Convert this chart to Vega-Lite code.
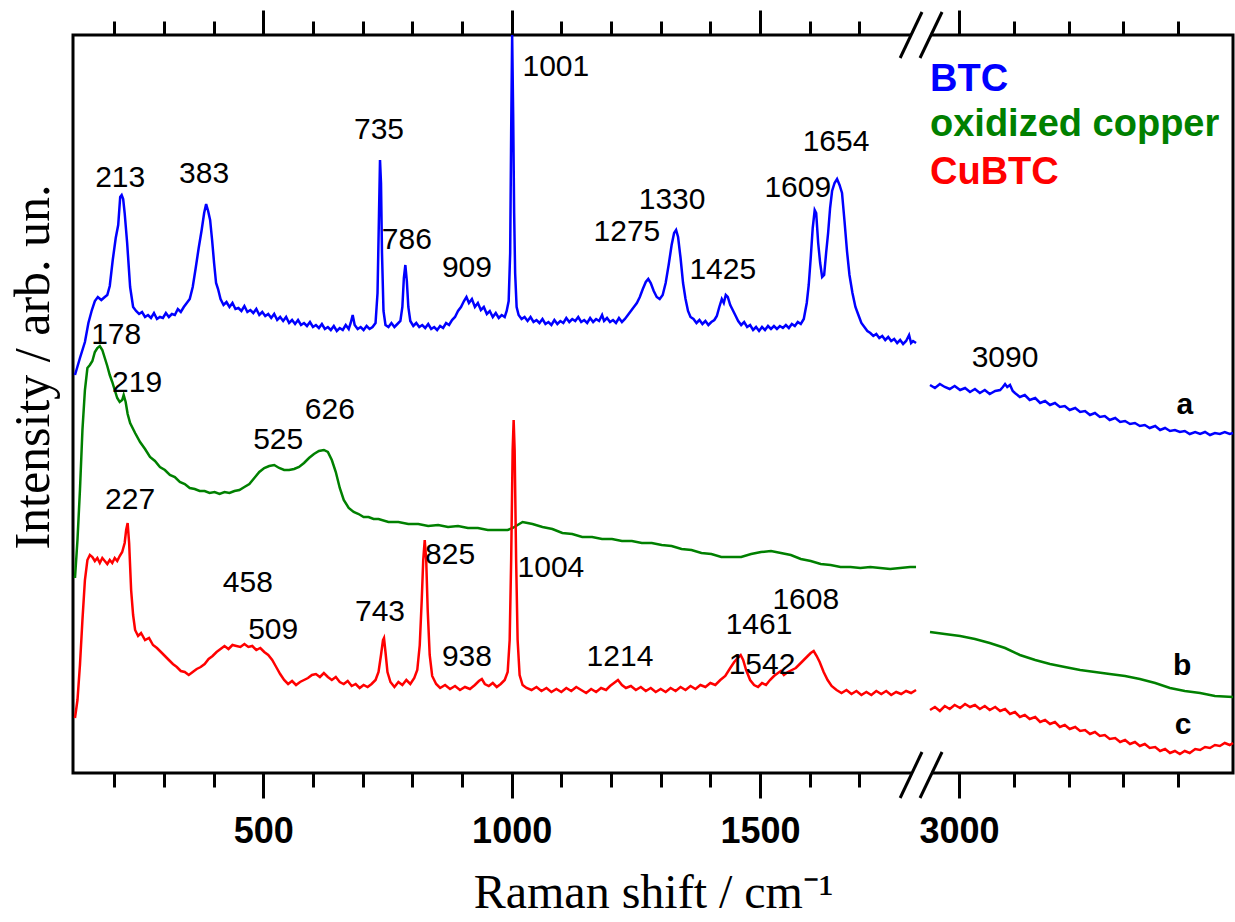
{
"$schema": "https://vega.github.io/schema/vega-lite/v6.json",
"width": 1160, "height": 738,
"autosize": {"type": "none"},
"padding": {"left": 73, "top": 35, "right": 2, "bottom": 149},
"background": "white",
"config": {"view": {"stroke": "black", "strokeWidth": 3}, "font": "Liberation Sans"},
"datasets": {
"breaks": [{"x1":1782,"x2":1826,"y1":715,"y2":761},{"x1":1822,"x2":2969,"y1":715,"y2":761},{"x1":1782,"x2":1826,"y1":-25,"y2":21},{"x1":1822,"x2":2969,"y1":-25,"y2":21}],
"legend": [{"s":"BTC","x":2947,"y":693},{"s":"oxidized copper","x":2947,"y":648},{"s":"CuBTC","x":2947,"y":600}],
"letters": [{"t":"a","x":3412,"y":368},{"t":"b","x":3407,"y":107},{"t":"c","x":3409,"y":48}],
"peaks": [
{"t":"213","x":212,"y":595},{"t":"383","x":381,"y":599},{"t":"735","x":733,"y":643},{"t":"786","x":789,"y":533},{"t":"909","x":910,"y":505},{"t":"1001","x":1089,"y":706},{"t":"1275","x":1232,"y":541},{"t":"1330","x":1323,"y":573},{"t":"1425","x":1425,"y":503},{"t":"1609","x":1576,"y":585},{"t":"1654","x":1653,"y":631},{"t":"3090","x":3084,"y":415},
{"t":"178","x":204,"y":438},{"t":"219","x":246,"y":390},{"t":"525","x":530,"y":333},{"t":"626","x":634,"y":363},
{"t":"227","x":232,"y":273},{"t":"458","x":469,"y":190},{"t":"509","x":520,"y":143},{"t":"743","x":735,"y":161},{"t":"825","x":876,"y":218},{"t":"1004","x":1079,"y":205},{"t":"938","x":910,"y":116},{"t":"1214","x":1218,"y":116},{"t":"1461","x":1498,"y":148},{"t":"1542","x":1504,"y":108},{"t":"1608","x":1592,"y":173}
],
"spectra": [
{"s":"BTC","g":"L","x":121,"y":398},{"s":"BTC","g":"L","x":131,"y":415},{"s":"BTC","g":"L","x":141,"y":431},{"s":"BTC","g":"L","x":148,"y":450},{"s":"BTC","g":"L","x":155,"y":463},{"s":"BTC","g":"L","x":161,"y":472},{"s":"BTC","g":"L","x":167,"y":476},{"s":"BTC","g":"L","x":174,"y":473},{"s":"BTC","g":"L","x":181,"y":476},{"s":"BTC","g":"L","x":186,"y":478},{"s":"BTC","g":"L","x":191,"y":487},{"s":"BTC","g":"L","x":197,"y":513},{"s":"BTC","g":"L","x":203,"y":535},{"s":"BTC","g":"L","x":208,"y":548},{"s":"BTC","g":"L","x":212,"y":576},{"s":"BTC","g":"L","x":215,"y":578},{"s":"BTC","g":"L","x":218,"y":574},{"s":"BTC","g":"L","x":221,"y":560},{"s":"BTC","g":"L","x":226,"y":530},{"s":"BTC","g":"L","x":232,"y":486},{"s":"BTC","g":"L","x":238,"y":466},{"s":"BTC","g":"L","x":244,"y":462},{"s":"BTC","g":"L","x":250,"y":459},{"s":"BTC","g":"L","x":256,"y":461},{"s":"BTC","g":"L","x":262,"y":456},{"s":"BTC","g":"L","x":268,"y":458},{"s":"BTC","g":"L","x":274,"y":455},{"s":"BTC","g":"L","x":280,"y":460},{"s":"BTC","g":"L","x":286,"y":454},{"s":"BTC","g":"L","x":292,"y":456},{"s":"BTC","g":"L","x":298,"y":455},{"s":"BTC","g":"L","x":304,"y":460},{"s":"BTC","g":"L","x":310,"y":456},{"s":"BTC","g":"L","x":316,"y":459},{"s":"BTC","g":"L","x":322,"y":458},{"s":"BTC","g":"L","x":328,"y":464},{"s":"BTC","g":"L","x":334,"y":461},{"s":"BTC","g":"L","x":340,"y":466},{"s":"BTC","g":"L","x":346,"y":470},{"s":"BTC","g":"L","x":352,"y":474},{"s":"BTC","g":"L","x":358,"y":486},{"s":"BTC","g":"L","x":364,"y":505},{"s":"BTC","g":"L","x":370,"y":525},{"s":"BTC","g":"L","x":376,"y":543},{"s":"BTC","g":"L","x":381,"y":560},{"s":"BTC","g":"L","x":385,"y":569},{"s":"BTC","g":"L","x":389,"y":562},{"s":"BTC","g":"L","x":393,"y":553},{"s":"BTC","g":"L","x":397,"y":533},{"s":"BTC","g":"L","x":401,"y":510},{"s":"BTC","g":"L","x":405,"y":490},{"s":"BTC","g":"L","x":409,"y":484},{"s":"BTC","g":"L","x":414,"y":474},{"s":"BTC","g":"L","x":420,"y":468},{"s":"BTC","g":"L","x":426,"y":471},{"s":"BTC","g":"L","x":432,"y":466},{"s":"BTC","g":"L","x":438,"y":470},{"s":"BTC","g":"L","x":444,"y":464},{"s":"BTC","g":"L","x":450,"y":465},{"s":"BTC","g":"L","x":456,"y":462},{"s":"BTC","g":"L","x":462,"y":467},{"s":"BTC","g":"L","x":468,"y":461},{"s":"BTC","g":"L","x":474,"y":463},{"s":"BTC","g":"L","x":480,"y":460},{"s":"BTC","g":"L","x":486,"y":464},{"s":"BTC","g":"L","x":492,"y":458},{"s":"BTC","g":"L","x":498,"y":461},{"s":"BTC","g":"L","x":504,"y":457},{"s":"BTC","g":"L","x":510,"y":459},{"s":"BTC","g":"L","x":516,"y":455},{"s":"BTC","g":"L","x":522,"y":459},{"s":"BTC","g":"L","x":528,"y":453},{"s":"BTC","g":"L","x":534,"y":456},{"s":"BTC","g":"L","x":540,"y":452},{"s":"BTC","g":"L","x":546,"y":456},{"s":"BTC","g":"L","x":552,"y":450},{"s":"BTC","g":"L","x":558,"y":453},{"s":"BTC","g":"L","x":564,"y":449},{"s":"BTC","g":"L","x":570,"y":453},{"s":"BTC","g":"L","x":576,"y":448},{"s":"BTC","g":"L","x":582,"y":450},{"s":"BTC","g":"L","x":588,"y":447},{"s":"BTC","g":"L","x":594,"y":451},{"s":"BTC","g":"L","x":600,"y":446},{"s":"BTC","g":"L","x":606,"y":448},{"s":"BTC","g":"L","x":612,"y":445},{"s":"BTC","g":"L","x":618,"y":449},{"s":"BTC","g":"L","x":624,"y":444},{"s":"BTC","g":"L","x":630,"y":446},{"s":"BTC","g":"L","x":636,"y":443},{"s":"BTC","g":"L","x":642,"y":447},{"s":"BTC","g":"L","x":648,"y":442},{"s":"BTC","g":"L","x":654,"y":445},{"s":"BTC","g":"L","x":660,"y":443},{"s":"BTC","g":"L","x":666,"y":448},{"s":"BTC","g":"L","x":672,"y":444},{"s":"BTC","g":"L","x":676,"y":450},{"s":"BTC","g":"L","x":680,"y":458},{"s":"BTC","g":"L","x":684,"y":448},{"s":"BTC","g":"L","x":690,"y":444},{"s":"BTC","g":"L","x":696,"y":446},{"s":"BTC","g":"L","x":702,"y":443},{"s":"BTC","g":"L","x":708,"y":447},{"s":"BTC","g":"L","x":714,"y":444},{"s":"BTC","g":"L","x":720,"y":446},{"s":"BTC","g":"L","x":726,"y":450},{"s":"BTC","g":"L","x":730,"y":480},{"s":"BTC","g":"L","x":733,"y":560},{"s":"BTC","g":"L","x":735,"y":613},{"s":"BTC","g":"L","x":737,"y":590},{"s":"BTC","g":"L","x":739,"y":520},{"s":"BTC","g":"L","x":742,"y":462},{"s":"BTC","g":"L","x":746,"y":448},{"s":"BTC","g":"L","x":752,"y":446},{"s":"BTC","g":"L","x":758,"y":450},{"s":"BTC","g":"L","x":764,"y":446},{"s":"BTC","g":"L","x":770,"y":449},{"s":"BTC","g":"L","x":776,"y":452},{"s":"BTC","g":"L","x":780,"y":466},{"s":"BTC","g":"L","x":783,"y":495},{"s":"BTC","g":"L","x":786,"y":508},{"s":"BTC","g":"L","x":789,"y":492},{"s":"BTC","g":"L","x":792,"y":466},{"s":"BTC","g":"L","x":796,"y":452},{"s":"BTC","g":"L","x":802,"y":447},{"s":"BTC","g":"L","x":808,"y":450},{"s":"BTC","g":"L","x":814,"y":446},{"s":"BTC","g":"L","x":820,"y":448},{"s":"BTC","g":"L","x":826,"y":445},{"s":"BTC","g":"L","x":832,"y":449},{"s":"BTC","g":"L","x":838,"y":444},{"s":"BTC","g":"L","x":844,"y":446},{"s":"BTC","g":"L","x":850,"y":443},{"s":"BTC","g":"L","x":856,"y":447},{"s":"BTC","g":"L","x":862,"y":445},{"s":"BTC","g":"L","x":868,"y":450},{"s":"BTC","g":"L","x":874,"y":448},{"s":"BTC","g":"L","x":880,"y":453},{"s":"BTC","g":"L","x":886,"y":456},{"s":"BTC","g":"L","x":892,"y":462},{"s":"BTC","g":"L","x":898,"y":466},{"s":"BTC","g":"L","x":904,"y":472},{"s":"BTC","g":"L","x":909,"y":476},{"s":"BTC","g":"L","x":914,"y":470},{"s":"BTC","g":"L","x":920,"y":474},{"s":"BTC","g":"L","x":926,"y":466},{"s":"BTC","g":"L","x":932,"y":470},{"s":"BTC","g":"L","x":938,"y":463},{"s":"BTC","g":"L","x":944,"y":466},{"s":"BTC","g":"L","x":950,"y":459},{"s":"BTC","g":"L","x":956,"y":462},{"s":"BTC","g":"L","x":962,"y":456},{"s":"BTC","g":"L","x":968,"y":460},{"s":"BTC","g":"L","x":974,"y":455},{"s":"BTC","g":"L","x":980,"y":458},{"s":"BTC","g":"L","x":986,"y":456},{"s":"BTC","g":"L","x":990,"y":462},{"s":"BTC","g":"L","x":994,"y":472},{"s":"BTC","g":"L","x":997,"y":520},{"s":"BTC","g":"L","x":999,"y":640},{"s":"BTC","g":"L","x":1001,"y":738},{"s":"BTC","g":"L","x":1003,"y":660},{"s":"BTC","g":"L","x":1005,"y":560},{"s":"BTC","g":"L","x":1007,"y":500},{"s":"BTC","g":"L","x":1010,"y":466},{"s":"BTC","g":"L","x":1014,"y":458},{"s":"BTC","g":"L","x":1020,"y":454},{"s":"BTC","g":"L","x":1026,"y":456},{"s":"BTC","g":"L","x":1032,"y":452},{"s":"BTC","g":"L","x":1038,"y":456},{"s":"BTC","g":"L","x":1044,"y":451},{"s":"BTC","g":"L","x":1050,"y":453},{"s":"BTC","g":"L","x":1056,"y":450},{"s":"BTC","g":"L","x":1062,"y":454},{"s":"BTC","g":"L","x":1068,"y":449},{"s":"BTC","g":"L","x":1074,"y":451},{"s":"BTC","g":"L","x":1080,"y":448},{"s":"BTC","g":"L","x":1086,"y":453},{"s":"BTC","g":"L","x":1092,"y":449},{"s":"BTC","g":"L","x":1098,"y":452},{"s":"BTC","g":"L","x":1104,"y":450},{"s":"BTC","g":"L","x":1110,"y":455},{"s":"BTC","g":"L","x":1116,"y":451},{"s":"BTC","g":"L","x":1122,"y":454},{"s":"BTC","g":"L","x":1128,"y":452},{"s":"BTC","g":"L","x":1134,"y":456},{"s":"BTC","g":"L","x":1140,"y":451},{"s":"BTC","g":"L","x":1146,"y":453},{"s":"BTC","g":"L","x":1152,"y":450},{"s":"BTC","g":"L","x":1158,"y":455},{"s":"BTC","g":"L","x":1164,"y":451},{"s":"BTC","g":"L","x":1170,"y":454},{"s":"BTC","g":"L","x":1176,"y":452},{"s":"BTC","g":"L","x":1182,"y":458},{"s":"BTC","g":"L","x":1186,"y":452},{"s":"BTC","g":"L","x":1192,"y":455},{"s":"BTC","g":"L","x":1198,"y":451},{"s":"BTC","g":"L","x":1204,"y":453},{"s":"BTC","g":"L","x":1210,"y":450},{"s":"BTC","g":"L","x":1216,"y":455},{"s":"BTC","g":"L","x":1222,"y":451},{"s":"BTC","g":"L","x":1228,"y":454},{"s":"BTC","g":"L","x":1234,"y":458},{"s":"BTC","g":"L","x":1240,"y":462},{"s":"BTC","g":"L","x":1246,"y":466},{"s":"BTC","g":"L","x":1252,"y":470},{"s":"BTC","g":"L","x":1258,"y":476},{"s":"BTC","g":"L","x":1264,"y":484},{"s":"BTC","g":"L","x":1270,"y":491},{"s":"BTC","g":"L","x":1275,"y":494},{"s":"BTC","g":"L","x":1280,"y":490},{"s":"BTC","g":"L","x":1286,"y":482},{"s":"BTC","g":"L","x":1292,"y":476},{"s":"BTC","g":"L","x":1298,"y":474},{"s":"BTC","g":"L","x":1304,"y":478},{"s":"BTC","g":"L","x":1310,"y":490},{"s":"BTC","g":"L","x":1316,"y":508},{"s":"BTC","g":"L","x":1322,"y":528},{"s":"BTC","g":"L","x":1327,"y":540},{"s":"BTC","g":"L","x":1331,"y":543},{"s":"BTC","g":"L","x":1335,"y":536},{"s":"BTC","g":"L","x":1340,"y":515},{"s":"BTC","g":"L","x":1345,"y":490},{"s":"BTC","g":"L","x":1350,"y":474},{"s":"BTC","g":"L","x":1355,"y":462},{"s":"BTC","g":"L","x":1360,"y":456},{"s":"BTC","g":"L","x":1366,"y":454},{"s":"BTC","g":"L","x":1372,"y":450},{"s":"BTC","g":"L","x":1378,"y":453},{"s":"BTC","g":"L","x":1384,"y":449},{"s":"BTC","g":"L","x":1390,"y":452},{"s":"BTC","g":"L","x":1396,"y":448},{"s":"BTC","g":"L","x":1402,"y":451},{"s":"BTC","g":"L","x":1408,"y":453},{"s":"BTC","g":"L","x":1413,"y":457},{"s":"BTC","g":"L","x":1418,"y":466},{"s":"BTC","g":"L","x":1423,"y":474},{"s":"BTC","g":"L","x":1427,"y":470},{"s":"BTC","g":"L","x":1431,"y":478},{"s":"BTC","g":"L","x":1435,"y":476},{"s":"BTC","g":"L","x":1440,"y":468},{"s":"BTC","g":"L","x":1445,"y":463},{"s":"BTC","g":"L","x":1450,"y":458},{"s":"BTC","g":"L","x":1456,"y":452},{"s":"BTC","g":"L","x":1462,"y":448},{"s":"BTC","g":"L","x":1468,"y":451},{"s":"BTC","g":"L","x":1474,"y":446},{"s":"BTC","g":"L","x":1480,"y":448},{"s":"BTC","g":"L","x":1486,"y":443},{"s":"BTC","g":"L","x":1492,"y":446},{"s":"BTC","g":"L","x":1498,"y":442},{"s":"BTC","g":"L","x":1504,"y":446},{"s":"BTC","g":"L","x":1510,"y":443},{"s":"BTC","g":"L","x":1516,"y":447},{"s":"BTC","g":"L","x":1522,"y":444},{"s":"BTC","g":"L","x":1528,"y":447},{"s":"BTC","g":"L","x":1534,"y":444},{"s":"BTC","g":"L","x":1540,"y":447},{"s":"BTC","g":"L","x":1546,"y":445},{"s":"BTC","g":"L","x":1552,"y":448},{"s":"BTC","g":"L","x":1558,"y":445},{"s":"BTC","g":"L","x":1564,"y":449},{"s":"BTC","g":"L","x":1570,"y":447},{"s":"BTC","g":"L","x":1576,"y":451},{"s":"BTC","g":"L","x":1582,"y":449},{"s":"BTC","g":"L","x":1588,"y":454},{"s":"BTC","g":"L","x":1594,"y":470},{"s":"BTC","g":"L","x":1598,"y":488},{"s":"BTC","g":"L","x":1602,"y":515},{"s":"BTC","g":"L","x":1606,"y":545},{"s":"BTC","g":"L","x":1610,"y":563},{"s":"BTC","g":"L","x":1613,"y":560},{"s":"BTC","g":"L","x":1617,"y":530},{"s":"BTC","g":"L","x":1621,"y":510},{"s":"BTC","g":"L","x":1625,"y":496},{"s":"BTC","g":"L","x":1629,"y":498},{"s":"BTC","g":"L","x":1633,"y":520},{"s":"BTC","g":"L","x":1637,"y":540},{"s":"BTC","g":"L","x":1641,"y":565},{"s":"BTC","g":"L","x":1645,"y":582},{"s":"BTC","g":"L","x":1650,"y":590},{"s":"BTC","g":"L","x":1655,"y":594},{"s":"BTC","g":"L","x":1660,"y":588},{"s":"BTC","g":"L","x":1665,"y":580},{"s":"BTC","g":"L","x":1670,"y":552},{"s":"BTC","g":"L","x":1675,"y":522},{"s":"BTC","g":"L","x":1680,"y":498},{"s":"BTC","g":"L","x":1686,"y":480},{"s":"BTC","g":"L","x":1692,"y":466},{"s":"BTC","g":"L","x":1698,"y":458},{"s":"BTC","g":"L","x":1704,"y":450},{"s":"BTC","g":"L","x":1710,"y":446},{"s":"BTC","g":"L","x":1716,"y":442},{"s":"BTC","g":"L","x":1722,"y":440},{"s":"BTC","g":"L","x":1728,"y":437},{"s":"BTC","g":"L","x":1734,"y":439},{"s":"BTC","g":"L","x":1740,"y":435},{"s":"BTC","g":"L","x":1746,"y":437},{"s":"BTC","g":"L","x":1752,"y":433},{"s":"BTC","g":"L","x":1758,"y":436},{"s":"BTC","g":"L","x":1764,"y":432},{"s":"BTC","g":"L","x":1770,"y":434},{"s":"BTC","g":"L","x":1776,"y":430},{"s":"BTC","g":"L","x":1782,"y":433},{"s":"BTC","g":"L","x":1788,"y":429},{"s":"BTC","g":"L","x":1794,"y":432},{"s":"BTC","g":"L","x":1800,"y":438},{"s":"BTC","g":"L","x":1804,"y":430},{"s":"BTC","g":"L","x":1808,"y":432},{"s":"BTC","g":"L","x":1814,"y":430},
{"s":"BTC","g":"R","x":2947,"y":388},{"s":"BTC","g":"R","x":2956,"y":385},{"s":"BTC","g":"R","x":2965,"y":389},{"s":"BTC","g":"R","x":2974,"y":386},{"s":"BTC","g":"R","x":2983,"y":384},{"s":"BTC","g":"R","x":2992,"y":387},{"s":"BTC","g":"R","x":3002,"y":383},{"s":"BTC","g":"R","x":3011,"y":385},{"s":"BTC","g":"R","x":3020,"y":381},{"s":"BTC","g":"R","x":3029,"y":384},{"s":"BTC","g":"R","x":3038,"y":380},{"s":"BTC","g":"R","x":3047,"y":383},{"s":"BTC","g":"R","x":3056,"y":379},{"s":"BTC","g":"R","x":3066,"y":382},{"s":"BTC","g":"R","x":3075,"y":383},{"s":"BTC","g":"R","x":3080,"y":386},{"s":"BTC","g":"R","x":3084,"y":389},{"s":"BTC","g":"R","x":3088,"y":386},{"s":"BTC","g":"R","x":3093,"y":388},{"s":"BTC","g":"R","x":3098,"y":382},{"s":"BTC","g":"R","x":3102,"y":380},{"s":"BTC","g":"R","x":3111,"y":376},{"s":"BTC","g":"R","x":3120,"y":378},{"s":"BTC","g":"R","x":3129,"y":373},{"s":"BTC","g":"R","x":3139,"y":375},{"s":"BTC","g":"R","x":3148,"y":370},{"s":"BTC","g":"R","x":3157,"y":372},{"s":"BTC","g":"R","x":3166,"y":368},{"s":"BTC","g":"R","x":3175,"y":370},{"s":"BTC","g":"R","x":3184,"y":366},{"s":"BTC","g":"R","x":3193,"y":367},{"s":"BTC","g":"R","x":3202,"y":363},{"s":"BTC","g":"R","x":3212,"y":365},{"s":"BTC","g":"R","x":3221,"y":361},{"s":"BTC","g":"R","x":3230,"y":362},{"s":"BTC","g":"R","x":3239,"y":358},{"s":"BTC","g":"R","x":3248,"y":360},{"s":"BTC","g":"R","x":3257,"y":356},{"s":"BTC","g":"R","x":3266,"y":357},{"s":"BTC","g":"R","x":3275,"y":353},{"s":"BTC","g":"R","x":3285,"y":355},{"s":"BTC","g":"R","x":3294,"y":351},{"s":"BTC","g":"R","x":3303,"y":352},{"s":"BTC","g":"R","x":3312,"y":349},{"s":"BTC","g":"R","x":3321,"y":350},{"s":"BTC","g":"R","x":3330,"y":347},{"s":"BTC","g":"R","x":3339,"y":348},{"s":"BTC","g":"R","x":3348,"y":345},{"s":"BTC","g":"R","x":3358,"y":347},{"s":"BTC","g":"R","x":3367,"y":343},{"s":"BTC","g":"R","x":3376,"y":345},{"s":"BTC","g":"R","x":3385,"y":342},{"s":"BTC","g":"R","x":3394,"y":343},{"s":"BTC","g":"R","x":3403,"y":341},{"s":"BTC","g":"R","x":3412,"y":342},{"s":"BTC","g":"R","x":3421,"y":339},{"s":"BTC","g":"R","x":3431,"y":341},{"s":"BTC","g":"R","x":3440,"y":339},{"s":"BTC","g":"R","x":3449,"y":341},{"s":"BTC","g":"R","x":3458,"y":338},{"s":"BTC","g":"R","x":3467,"y":340},{"s":"BTC","g":"R","x":3476,"y":339},{"s":"BTC","g":"R","x":3485,"y":341},{"s":"BTC","g":"R","x":3494,"y":339},{"s":"BTC","g":"R","x":3500,"y":340},
{"s":"oxidized copper","g":"L","x":121,"y":195},{"s":"oxidized copper","g":"L","x":126,"y":233},{"s":"oxidized copper","g":"L","x":131,"y":283},{"s":"oxidized copper","g":"L","x":136,"y":343},{"s":"oxidized copper","g":"L","x":141,"y":383},{"s":"oxidized copper","g":"L","x":146,"y":405},{"s":"oxidized copper","g":"L","x":151,"y":408},{"s":"oxidized copper","g":"L","x":156,"y":412},{"s":"oxidized copper","g":"L","x":161,"y":421},{"s":"oxidized copper","g":"L","x":166,"y":425},{"s":"oxidized copper","g":"L","x":171,"y":427},{"s":"oxidized copper","g":"L","x":176,"y":423},{"s":"oxidized copper","g":"L","x":181,"y":415},{"s":"oxidized copper","g":"L","x":186,"y":407},{"s":"oxidized copper","g":"L","x":191,"y":398},{"s":"oxidized copper","g":"L","x":196,"y":391},{"s":"oxidized copper","g":"L","x":201,"y":383},{"s":"oxidized copper","g":"L","x":206,"y":375},{"s":"oxidized copper","g":"L","x":211,"y":371},{"s":"oxidized copper","g":"L","x":216,"y":373},{"s":"oxidized copper","g":"L","x":219,"y":378},{"s":"oxidized copper","g":"L","x":223,"y":371},{"s":"oxidized copper","g":"L","x":227,"y":359},{"s":"oxidized copper","g":"L","x":232,"y":350},{"s":"oxidized copper","g":"L","x":242,"y":340},{"s":"oxidized copper","g":"L","x":252,"y":331},{"s":"oxidized copper","g":"L","x":262,"y":324},{"s":"oxidized copper","g":"L","x":272,"y":316},{"s":"oxidized copper","g":"L","x":282,"y":312},{"s":"oxidized copper","g":"L","x":292,"y":306},{"s":"oxidized copper","g":"L","x":302,"y":303},{"s":"oxidized copper","g":"L","x":312,"y":298},{"s":"oxidized copper","g":"L","x":322,"y":296},{"s":"oxidized copper","g":"L","x":332,"y":291},{"s":"oxidized copper","g":"L","x":342,"y":289},{"s":"oxidized copper","g":"L","x":352,"y":285},{"s":"oxidized copper","g":"L","x":362,"y":284},{"s":"oxidized copper","g":"L","x":372,"y":282},{"s":"oxidized copper","g":"L","x":382,"y":282},{"s":"oxidized copper","g":"L","x":392,"y":280},{"s":"oxidized copper","g":"L","x":402,"y":281},{"s":"oxidized copper","g":"L","x":412,"y":279},{"s":"oxidized copper","g":"L","x":422,"y":281},{"s":"oxidized copper","g":"L","x":432,"y":280},{"s":"oxidized copper","g":"L","x":442,"y":282},{"s":"oxidized copper","g":"L","x":452,"y":283},{"s":"oxidized copper","g":"L","x":462,"y":286},{"s":"oxidized copper","g":"L","x":472,"y":289},{"s":"oxidized copper","g":"L","x":482,"y":295},{"s":"oxidized copper","g":"L","x":492,"y":301},{"s":"oxidized copper","g":"L","x":502,"y":305},{"s":"oxidized copper","g":"L","x":512,"y":307},{"s":"oxidized copper","g":"L","x":522,"y":308},{"s":"oxidized copper","g":"L","x":532,"y":305},{"s":"oxidized copper","g":"L","x":542,"y":303},{"s":"oxidized copper","g":"L","x":552,"y":303},{"s":"oxidized copper","g":"L","x":562,"y":304},{"s":"oxidized copper","g":"L","x":572,"y":306},{"s":"oxidized copper","g":"L","x":582,"y":310},{"s":"oxidized copper","g":"L","x":592,"y":315},{"s":"oxidized copper","g":"L","x":602,"y":319},{"s":"oxidized copper","g":"L","x":612,"y":322},{"s":"oxidized copper","g":"L","x":622,"y":323},{"s":"oxidized copper","g":"L","x":630,"y":321},{"s":"oxidized copper","g":"L","x":638,"y":313},{"s":"oxidized copper","g":"L","x":646,"y":301},{"s":"oxidized copper","g":"L","x":654,"y":285},{"s":"oxidized copper","g":"L","x":662,"y":273},{"s":"oxidized copper","g":"L","x":672,"y":265},{"s":"oxidized copper","g":"L","x":682,"y":261},{"s":"oxidized copper","g":"L","x":692,"y":259},{"s":"oxidized copper","g":"L","x":702,"y":256},{"s":"oxidized copper","g":"L","x":712,"y":256},{"s":"oxidized copper","g":"L","x":722,"y":254},{"s":"oxidized copper","g":"L","x":732,"y":254},{"s":"oxidized copper","g":"L","x":752,"y":251},{"s":"oxidized copper","g":"L","x":772,"y":251},{"s":"oxidized copper","g":"L","x":792,"y":249},{"s":"oxidized copper","g":"L","x":812,"y":249},{"s":"oxidized copper","g":"L","x":832,"y":247},{"s":"oxidized copper","g":"L","x":852,"y":248},{"s":"oxidized copper","g":"L","x":872,"y":246},{"s":"oxidized copper","g":"L","x":892,"y":247},{"s":"oxidized copper","g":"L","x":912,"y":245},{"s":"oxidized copper","g":"L","x":932,"y":245},{"s":"oxidized copper","g":"L","x":952,"y":243},{"s":"oxidized copper","g":"L","x":972,"y":243},{"s":"oxidized copper","g":"L","x":992,"y":243},{"s":"oxidized copper","g":"L","x":1002,"y":245},{"s":"oxidized copper","g":"L","x":1012,"y":248},{"s":"oxidized copper","g":"L","x":1022,"y":251},{"s":"oxidized copper","g":"L","x":1032,"y":250},{"s":"oxidized copper","g":"L","x":1042,"y":249},{"s":"oxidized copper","g":"L","x":1062,"y":246},{"s":"oxidized copper","g":"L","x":1082,"y":244},{"s":"oxidized copper","g":"L","x":1102,"y":240},{"s":"oxidized copper","g":"L","x":1122,"y":239},{"s":"oxidized copper","g":"L","x":1142,"y":236},{"s":"oxidized copper","g":"L","x":1162,"y":236},{"s":"oxidized copper","g":"L","x":1182,"y":234},{"s":"oxidized copper","g":"L","x":1202,"y":234},{"s":"oxidized copper","g":"L","x":1222,"y":232},{"s":"oxidized copper","g":"L","x":1242,"y":232},{"s":"oxidized copper","g":"L","x":1262,"y":230},{"s":"oxidized copper","g":"L","x":1282,"y":230},{"s":"oxidized copper","g":"L","x":1302,"y":228},{"s":"oxidized copper","g":"L","x":1322,"y":227},{"s":"oxidized copper","g":"L","x":1342,"y":224},{"s":"oxidized copper","g":"L","x":1362,"y":223},{"s":"oxidized copper","g":"L","x":1382,"y":220},{"s":"oxidized copper","g":"L","x":1402,"y":219},{"s":"oxidized copper","g":"L","x":1422,"y":216},{"s":"oxidized copper","g":"L","x":1442,"y":216},{"s":"oxidized copper","g":"L","x":1462,"y":216},{"s":"oxidized copper","g":"L","x":1482,"y":219},{"s":"oxidized copper","g":"L","x":1502,"y":221},{"s":"oxidized copper","g":"L","x":1522,"y":222},{"s":"oxidized copper","g":"L","x":1542,"y":220},{"s":"oxidized copper","g":"L","x":1562,"y":218},{"s":"oxidized copper","g":"L","x":1582,"y":214},{"s":"oxidized copper","g":"L","x":1602,"y":212},{"s":"oxidized copper","g":"L","x":1622,"y":209},{"s":"oxidized copper","g":"L","x":1642,"y":208},{"s":"oxidized copper","g":"L","x":1662,"y":206},{"s":"oxidized copper","g":"L","x":1682,"y":206},{"s":"oxidized copper","g":"L","x":1702,"y":205},{"s":"oxidized copper","g":"L","x":1722,"y":206},{"s":"oxidized copper","g":"L","x":1742,"y":205},{"s":"oxidized copper","g":"L","x":1762,"y":204},{"s":"oxidized copper","g":"L","x":1782,"y":205},{"s":"oxidized copper","g":"L","x":1802,"y":206},{"s":"oxidized copper","g":"L","x":1814,"y":206},
{"s":"oxidized copper","g":"R","x":2947,"y":141},{"s":"oxidized copper","g":"R","x":2974,"y":139},{"s":"oxidized copper","g":"R","x":3002,"y":137},{"s":"oxidized copper","g":"R","x":3029,"y":134},{"s":"oxidized copper","g":"R","x":3056,"y":130},{"s":"oxidized copper","g":"R","x":3084,"y":125},{"s":"oxidized copper","g":"R","x":3111,"y":118},{"s":"oxidized copper","g":"R","x":3139,"y":113},{"s":"oxidized copper","g":"R","x":3166,"y":109},{"s":"oxidized copper","g":"R","x":3193,"y":106},{"s":"oxidized copper","g":"R","x":3221,"y":103},{"s":"oxidized copper","g":"R","x":3248,"y":101},{"s":"oxidized copper","g":"R","x":3275,"y":99},{"s":"oxidized copper","g":"R","x":3303,"y":97},{"s":"oxidized copper","g":"R","x":3330,"y":94},{"s":"oxidized copper","g":"R","x":3358,"y":90},{"s":"oxidized copper","g":"R","x":3385,"y":85},{"s":"oxidized copper","g":"R","x":3412,"y":82},{"s":"oxidized copper","g":"R","x":3440,"y":80},{"s":"oxidized copper","g":"R","x":3467,"y":77},{"s":"oxidized copper","g":"R","x":3500,"y":76},
{"s":"CuBTC","g":"L","x":121,"y":55},{"s":"CuBTC","g":"L","x":126,"y":73},{"s":"CuBTC","g":"L","x":131,"y":108},{"s":"CuBTC","g":"L","x":136,"y":153},{"s":"CuBTC","g":"L","x":141,"y":193},{"s":"CuBTC","g":"L","x":146,"y":213},{"s":"CuBTC","g":"L","x":151,"y":218},{"s":"CuBTC","g":"L","x":156,"y":216},{"s":"CuBTC","g":"L","x":161,"y":212},{"s":"CuBTC","g":"L","x":166,"y":215},{"s":"CuBTC","g":"L","x":171,"y":210},{"s":"CuBTC","g":"L","x":176,"y":215},{"s":"CuBTC","g":"L","x":181,"y":212},{"s":"CuBTC","g":"L","x":186,"y":209},{"s":"CuBTC","g":"L","x":191,"y":213},{"s":"CuBTC","g":"L","x":196,"y":210},{"s":"CuBTC","g":"L","x":201,"y":215},{"s":"CuBTC","g":"L","x":206,"y":212},{"s":"CuBTC","g":"L","x":211,"y":217},{"s":"CuBTC","g":"L","x":216,"y":221},{"s":"CuBTC","g":"L","x":221,"y":230},{"s":"CuBTC","g":"L","x":224,"y":243},{"s":"CuBTC","g":"L","x":227,"y":250},{"s":"CuBTC","g":"L","x":230,"y":230},{"s":"CuBTC","g":"L","x":234,"y":183},{"s":"CuBTC","g":"L","x":238,"y":158},{"s":"CuBTC","g":"L","x":242,"y":143},{"s":"CuBTC","g":"L","x":248,"y":137},{"s":"CuBTC","g":"L","x":254,"y":140},{"s":"CuBTC","g":"L","x":262,"y":133},{"s":"CuBTC","g":"L","x":270,"y":135},{"s":"CuBTC","g":"L","x":278,"y":128},{"s":"CuBTC","g":"L","x":286,"y":125},{"s":"CuBTC","g":"L","x":294,"y":121},{"s":"CuBTC","g":"L","x":302,"y":117},{"s":"CuBTC","g":"L","x":310,"y":113},{"s":"CuBTC","g":"L","x":318,"y":109},{"s":"CuBTC","g":"L","x":326,"y":106},{"s":"CuBTC","g":"L","x":334,"y":102},{"s":"CuBTC","g":"L","x":342,"y":101},{"s":"CuBTC","g":"L","x":350,"y":98},{"s":"CuBTC","g":"L","x":358,"y":101},{"s":"CuBTC","g":"L","x":366,"y":104},{"s":"CuBTC","g":"L","x":374,"y":106},{"s":"CuBTC","g":"L","x":382,"y":109},{"s":"CuBTC","g":"L","x":390,"y":114},{"s":"CuBTC","g":"L","x":398,"y":117},{"s":"CuBTC","g":"L","x":406,"y":121},{"s":"CuBTC","g":"L","x":414,"y":124},{"s":"CuBTC","g":"L","x":422,"y":127},{"s":"CuBTC","g":"L","x":430,"y":124},{"s":"CuBTC","g":"L","x":438,"y":128},{"s":"CuBTC","g":"L","x":446,"y":127},{"s":"CuBTC","g":"L","x":454,"y":126},{"s":"CuBTC","g":"L","x":462,"y":129},{"s":"CuBTC","g":"L","x":470,"y":126},{"s":"CuBTC","g":"L","x":478,"y":127},{"s":"CuBTC","g":"L","x":486,"y":123},{"s":"CuBTC","g":"L","x":494,"y":125},{"s":"CuBTC","g":"L","x":502,"y":121},{"s":"CuBTC","g":"L","x":510,"y":118},{"s":"CuBTC","g":"L","x":518,"y":113},{"s":"CuBTC","g":"L","x":526,"y":106},{"s":"CuBTC","g":"L","x":534,"y":99},{"s":"CuBTC","g":"L","x":542,"y":93},{"s":"CuBTC","g":"L","x":550,"y":89},{"s":"CuBTC","g":"L","x":558,"y":92},{"s":"CuBTC","g":"L","x":566,"y":88},{"s":"CuBTC","g":"L","x":574,"y":91},{"s":"CuBTC","g":"L","x":582,"y":93},{"s":"CuBTC","g":"L","x":590,"y":95},{"s":"CuBTC","g":"L","x":598,"y":98},{"s":"CuBTC","g":"L","x":606,"y":99},{"s":"CuBTC","g":"L","x":614,"y":96},{"s":"CuBTC","g":"L","x":622,"y":100},{"s":"CuBTC","g":"L","x":630,"y":96},{"s":"CuBTC","g":"L","x":638,"y":93},{"s":"CuBTC","g":"L","x":646,"y":96},{"s":"CuBTC","g":"L","x":654,"y":91},{"s":"CuBTC","g":"L","x":662,"y":89},{"s":"CuBTC","g":"L","x":670,"y":92},{"s":"CuBTC","g":"L","x":678,"y":87},{"s":"CuBTC","g":"L","x":686,"y":89},{"s":"CuBTC","g":"L","x":694,"y":85},{"s":"CuBTC","g":"L","x":702,"y":88},{"s":"CuBTC","g":"L","x":710,"y":86},{"s":"CuBTC","g":"L","x":718,"y":89},{"s":"CuBTC","g":"L","x":726,"y":93},{"s":"CuBTC","g":"L","x":732,"y":101},{"s":"CuBTC","g":"L","x":737,"y":118},{"s":"CuBTC","g":"L","x":741,"y":133},{"s":"CuBTC","g":"L","x":743,"y":135},{"s":"CuBTC","g":"L","x":746,"y":121},{"s":"CuBTC","g":"L","x":750,"y":101},{"s":"CuBTC","g":"L","x":756,"y":91},{"s":"CuBTC","g":"L","x":764,"y":86},{"s":"CuBTC","g":"L","x":772,"y":91},{"s":"CuBTC","g":"L","x":780,"y":88},{"s":"CuBTC","g":"L","x":788,"y":93},{"s":"CuBTC","g":"L","x":796,"y":89},{"s":"CuBTC","g":"L","x":804,"y":95},{"s":"CuBTC","g":"L","x":810,"y":103},{"s":"CuBTC","g":"L","x":815,"y":128},{"s":"CuBTC","g":"L","x":819,"y":173},{"s":"CuBTC","g":"L","x":822,"y":213},{"s":"CuBTC","g":"L","x":825,"y":233},{"s":"CuBTC","g":"L","x":828,"y":213},{"s":"CuBTC","g":"L","x":831,"y":163},{"s":"CuBTC","g":"L","x":835,"y":118},{"s":"CuBTC","g":"L","x":840,"y":97},{"s":"CuBTC","g":"L","x":848,"y":89},{"s":"CuBTC","g":"L","x":856,"y":85},{"s":"CuBTC","g":"L","x":866,"y":88},{"s":"CuBTC","g":"L","x":876,"y":84},{"s":"CuBTC","g":"L","x":886,"y":87},{"s":"CuBTC","g":"L","x":896,"y":83},{"s":"CuBTC","g":"L","x":906,"y":86},{"s":"CuBTC","g":"L","x":916,"y":84},{"s":"CuBTC","g":"L","x":926,"y":88},{"s":"CuBTC","g":"L","x":934,"y":92},{"s":"CuBTC","g":"L","x":940,"y":94},{"s":"CuBTC","g":"L","x":946,"y":89},{"s":"CuBTC","g":"L","x":954,"y":87},{"s":"CuBTC","g":"L","x":962,"y":90},{"s":"CuBTC","g":"L","x":970,"y":86},{"s":"CuBTC","g":"L","x":978,"y":89},{"s":"CuBTC","g":"L","x":986,"y":93},{"s":"CuBTC","g":"L","x":992,"y":101},{"s":"CuBTC","g":"L","x":996,"y":133},{"s":"CuBTC","g":"L","x":999,"y":213},{"s":"CuBTC","g":"L","x":1002,"y":323},{"s":"CuBTC","g":"L","x":1004,"y":353},{"s":"CuBTC","g":"L","x":1006,"y":323},{"s":"CuBTC","g":"L","x":1009,"y":213},{"s":"CuBTC","g":"L","x":1012,"y":133},{"s":"CuBTC","g":"L","x":1016,"y":98},{"s":"CuBTC","g":"L","x":1022,"y":88},{"s":"CuBTC","g":"L","x":1030,"y":85},{"s":"CuBTC","g":"L","x":1040,"y":83},{"s":"CuBTC","g":"L","x":1050,"y":86},{"s":"CuBTC","g":"L","x":1060,"y":82},{"s":"CuBTC","g":"L","x":1070,"y":85},{"s":"CuBTC","g":"L","x":1080,"y":81},{"s":"CuBTC","g":"L","x":1090,"y":84},{"s":"CuBTC","g":"L","x":1100,"y":81},{"s":"CuBTC","g":"L","x":1110,"y":85},{"s":"CuBTC","g":"L","x":1120,"y":82},{"s":"CuBTC","g":"L","x":1130,"y":86},{"s":"CuBTC","g":"L","x":1140,"y":83},{"s":"CuBTC","g":"L","x":1150,"y":80},{"s":"CuBTC","g":"L","x":1160,"y":84},{"s":"CuBTC","g":"L","x":1170,"y":81},{"s":"CuBTC","g":"L","x":1180,"y":85},{"s":"CuBTC","g":"L","x":1190,"y":83},{"s":"CuBTC","g":"L","x":1198,"y":87},{"s":"CuBTC","g":"L","x":1206,"y":90},{"s":"CuBTC","g":"L","x":1214,"y":93},{"s":"CuBTC","g":"L","x":1222,"y":88},{"s":"CuBTC","g":"L","x":1230,"y":85},{"s":"CuBTC","g":"L","x":1240,"y":87},{"s":"CuBTC","g":"L","x":1250,"y":83},{"s":"CuBTC","g":"L","x":1260,"y":86},{"s":"CuBTC","g":"L","x":1270,"y":82},{"s":"CuBTC","g":"L","x":1280,"y":85},{"s":"CuBTC","g":"L","x":1290,"y":81},{"s":"CuBTC","g":"L","x":1300,"y":84},{"s":"CuBTC","g":"L","x":1310,"y":81},{"s":"CuBTC","g":"L","x":1320,"y":85},{"s":"CuBTC","g":"L","x":1330,"y":82},{"s":"CuBTC","g":"L","x":1340,"y":86},{"s":"CuBTC","g":"L","x":1350,"y":83},{"s":"CuBTC","g":"L","x":1360,"y":87},{"s":"CuBTC","g":"L","x":1370,"y":84},{"s":"CuBTC","g":"L","x":1380,"y":88},{"s":"CuBTC","g":"L","x":1390,"y":86},{"s":"CuBTC","g":"L","x":1400,"y":90},{"s":"CuBTC","g":"L","x":1410,"y":88},{"s":"CuBTC","g":"L","x":1420,"y":93},{"s":"CuBTC","g":"L","x":1430,"y":97},{"s":"CuBTC","g":"L","x":1440,"y":105},{"s":"CuBTC","g":"L","x":1448,"y":111},{"s":"CuBTC","g":"L","x":1455,"y":115},{"s":"CuBTC","g":"L","x":1461,"y":118},{"s":"CuBTC","g":"L","x":1466,"y":113},{"s":"CuBTC","g":"L","x":1472,"y":103},{"s":"CuBTC","g":"L","x":1480,"y":93},{"s":"CuBTC","g":"L","x":1488,"y":88},{"s":"CuBTC","g":"L","x":1496,"y":86},{"s":"CuBTC","g":"L","x":1504,"y":90},{"s":"CuBTC","g":"L","x":1512,"y":88},{"s":"CuBTC","g":"L","x":1520,"y":93},{"s":"CuBTC","g":"L","x":1528,"y":97},{"s":"CuBTC","g":"L","x":1536,"y":100},{"s":"CuBTC","g":"L","x":1542,"y":102},{"s":"CuBTC","g":"L","x":1548,"y":98},{"s":"CuBTC","g":"L","x":1556,"y":101},{"s":"CuBTC","g":"L","x":1564,"y":103},{"s":"CuBTC","g":"L","x":1572,"y":105},{"s":"CuBTC","g":"L","x":1580,"y":109},{"s":"CuBTC","g":"L","x":1588,"y":113},{"s":"CuBTC","g":"L","x":1596,"y":117},{"s":"CuBTC","g":"L","x":1602,"y":120},{"s":"CuBTC","g":"L","x":1608,"y":122},{"s":"CuBTC","g":"L","x":1614,"y":117},{"s":"CuBTC","g":"L","x":1620,"y":111},{"s":"CuBTC","g":"L","x":1628,"y":101},{"s":"CuBTC","g":"L","x":1636,"y":93},{"s":"CuBTC","g":"L","x":1644,"y":87},{"s":"CuBTC","g":"L","x":1654,"y":83},{"s":"CuBTC","g":"L","x":1664,"y":80},{"s":"CuBTC","g":"L","x":1674,"y":83},{"s":"CuBTC","g":"L","x":1684,"y":79},{"s":"CuBTC","g":"L","x":1694,"y":82},{"s":"CuBTC","g":"L","x":1704,"y":78},{"s":"CuBTC","g":"L","x":1714,"y":81},{"s":"CuBTC","g":"L","x":1724,"y":78},{"s":"CuBTC","g":"L","x":1734,"y":82},{"s":"CuBTC","g":"L","x":1744,"y":79},{"s":"CuBTC","g":"L","x":1754,"y":82},{"s":"CuBTC","g":"L","x":1764,"y":78},{"s":"CuBTC","g":"L","x":1774,"y":81},{"s":"CuBTC","g":"L","x":1784,"y":79},{"s":"CuBTC","g":"L","x":1794,"y":82},{"s":"CuBTC","g":"L","x":1804,"y":80},{"s":"CuBTC","g":"L","x":1814,"y":83},
{"s":"CuBTC","g":"R","x":2947,"y":63},{"s":"CuBTC","g":"R","x":2956,"y":66},{"s":"CuBTC","g":"R","x":2965,"y":62},{"s":"CuBTC","g":"R","x":2974,"y":67},{"s":"CuBTC","g":"R","x":2983,"y":64},{"s":"CuBTC","g":"R","x":2992,"y":68},{"s":"CuBTC","g":"R","x":3002,"y":65},{"s":"CuBTC","g":"R","x":3011,"y":69},{"s":"CuBTC","g":"R","x":3020,"y":66},{"s":"CuBTC","g":"R","x":3029,"y":68},{"s":"CuBTC","g":"R","x":3038,"y":64},{"s":"CuBTC","g":"R","x":3047,"y":67},{"s":"CuBTC","g":"R","x":3056,"y":63},{"s":"CuBTC","g":"R","x":3066,"y":66},{"s":"CuBTC","g":"R","x":3075,"y":62},{"s":"CuBTC","g":"R","x":3084,"y":64},{"s":"CuBTC","g":"R","x":3093,"y":59},{"s":"CuBTC","g":"R","x":3102,"y":61},{"s":"CuBTC","g":"R","x":3111,"y":56},{"s":"CuBTC","g":"R","x":3120,"y":58},{"s":"CuBTC","g":"R","x":3129,"y":54},{"s":"CuBTC","g":"R","x":3139,"y":56},{"s":"CuBTC","g":"R","x":3148,"y":51},{"s":"CuBTC","g":"R","x":3157,"y":53},{"s":"CuBTC","g":"R","x":3166,"y":49},{"s":"CuBTC","g":"R","x":3175,"y":51},{"s":"CuBTC","g":"R","x":3184,"y":46},{"s":"CuBTC","g":"R","x":3193,"y":48},{"s":"CuBTC","g":"R","x":3202,"y":44},{"s":"CuBTC","g":"R","x":3212,"y":46},{"s":"CuBTC","g":"R","x":3221,"y":42},{"s":"CuBTC","g":"R","x":3230,"y":43},{"s":"CuBTC","g":"R","x":3239,"y":39},{"s":"CuBTC","g":"R","x":3248,"y":41},{"s":"CuBTC","g":"R","x":3257,"y":37},{"s":"CuBTC","g":"R","x":3266,"y":38},{"s":"CuBTC","g":"R","x":3275,"y":34},{"s":"CuBTC","g":"R","x":3285,"y":35},{"s":"CuBTC","g":"R","x":3294,"y":31},{"s":"CuBTC","g":"R","x":3303,"y":33},{"s":"CuBTC","g":"R","x":3312,"y":29},{"s":"CuBTC","g":"R","x":3321,"y":31},{"s":"CuBTC","g":"R","x":3330,"y":27},{"s":"CuBTC","g":"R","x":3339,"y":29},{"s":"CuBTC","g":"R","x":3348,"y":25},{"s":"CuBTC","g":"R","x":3358,"y":26},{"s":"CuBTC","g":"R","x":3367,"y":22},{"s":"CuBTC","g":"R","x":3376,"y":24},{"s":"CuBTC","g":"R","x":3385,"y":20},{"s":"CuBTC","g":"R","x":3394,"y":22},{"s":"CuBTC","g":"R","x":3403,"y":19},{"s":"CuBTC","g":"R","x":3412,"y":22},{"s":"CuBTC","g":"R","x":3421,"y":20},{"s":"CuBTC","g":"R","x":3431,"y":24},{"s":"CuBTC","g":"R","x":3440,"y":23},{"s":"CuBTC","g":"R","x":3449,"y":26},{"s":"CuBTC","g":"R","x":3458,"y":25},{"s":"CuBTC","g":"R","x":3467,"y":28},{"s":"CuBTC","g":"R","x":3476,"y":27},{"s":"CuBTC","g":"R","x":3485,"y":30},{"s":"CuBTC","g":"R","x":3494,"y":28},{"s":"CuBTC","g":"R","x":3500,"y":30}
]
},
"layer": [
{
"data": {"values": [{}]},
"mark": {"type": "rect", "fill": "white", "strokeWidth": 0},
"encoding": {
"x": {"datum": 1804, "type": "quantitative", "axis": {"orient": "top", "values": [200,300,400,500,600,700,800,900,1000,1100,1200,1300,1400,1500,1600,1700,3000,3100,3200,3300,3400], "labels": false, "title": null, "domain": false, "grid": false, "tickWidth": 3, "tickColor": "black", "tickSize": {"condition": {"test": "datum.value % 500 === 0", "value": 25}, "value": 14}}},
"x2": {"datum": 2949},
"y": {"datum": -6, "type": "quantitative", "axis": null},
"y2": {"datum": 744}
}
},
{
"data": {"name": "breaks"},
"mark": {"type": "rule", "strokeWidth": 3, "color": "black"},
"encoding": {
"x": {"field": "x1", "type": "quantitative", "axis": null},
"x2": {"field": "x2"},
"y": {"field": "y1", "type": "quantitative", "axis": null},
"y2": {"field": "y2"}
}
},
{
"data": {"name": "spectra"},
"mark": {"type": "line", "strokeWidth": 2.5},
"encoding": {
"x": {"field": "x", "type": "quantitative",
"scale": {"domain": [117, 1826, 2947, 3500], "range": [0, 849, 857, 1160], "nice": false, "zero": false},
"axis": {"orient": "bottom", "values": [200,300,400,500,600,700,800,900,1000,1100,1200,1300,1400,1500,1600,1700,3000,3100,3200,3300,3400], "format": "d", "labelExpr": "datum.value % 500 === 0 ? datum.label : ''", "domain": false, "grid": false, "tickWidth": 3, "tickColor": "black", "tickSize": {"condition": {"test": "datum.value % 500 === 0", "value": 25}, "value": 14}, "labelFont": "Liberation Sans", "labelFontWeight": "bold", "labelFontSize": 36, "labelColor": "black", "labelPadding": 16, "labelOverlap": false, "labelFlush": false, "title": "Raman shift / cm⁻¹", "titleFont": "Liberation Serif", "titleFontSize": 48, "titleFontWeight": "normal", "titleColor": "black", "titlePadding": 20}},
"y": {"field": "y", "type": "quantitative",
"scale": {"domain": [0, 738], "nice": false, "zero": false},
"axis": null},
"color": {"field": "s", "type": "nominal", "scale": {"domain": ["BTC", "oxidized copper", "CuBTC"], "range": ["#0000ff", "#008000", "#ff0000"]}, "legend": null},
"detail": {"field": "g"}
}
},
{
"data": {"values": [{}]},
"mark": {"type": "text", "font": "Liberation Serif", "fontSize": 50, "color": "black", "align": "center", "baseline": "middle", "angle": 270},
"encoding": {
"x": {"datum": 38, "type": "quantitative", "axis": null},
"y": {"datum": 406, "type": "quantitative", "axis": null},
"text": {"value": "Intensity / arb. un."}
}
},
{
"data": {"name": "peaks"},
"mark": {"type": "text", "font": "Liberation Sans", "fontSize": 30, "color": "black", "align": "center", "baseline": "middle"},
"encoding": {
"x": {"field": "x", "type": "quantitative", "axis": null},
"y": {"field": "y", "type": "quantitative", "axis": null},
"text": {"field": "t"}
}
},
{
"data": {"name": "legend"},
"mark": {"type": "text", "font": "Liberation Sans", "fontSize": 38, "fontWeight": "bold", "align": "left", "baseline": "middle"},
"encoding": {
"x": {"field": "x", "type": "quantitative", "axis": null},
"y": {"field": "y", "type": "quantitative", "axis": null},
"text": {"field": "s"},
"color": {"field": "s", "type": "nominal", "legend": null}
}
},
{
"data": {"name": "letters"},
"mark": {"type": "text", "font": "Liberation Sans", "fontSize": 30, "fontWeight": "bold", "color": "black", "align": "center", "baseline": "middle"},
"encoding": {
"x": {"field": "x", "type": "quantitative", "axis": null},
"y": {"field": "y", "type": "quantitative", "axis": null},
"text": {"field": "t"}
}
}
],
"resolve": {"axis": {"x": "independent"}}
}
